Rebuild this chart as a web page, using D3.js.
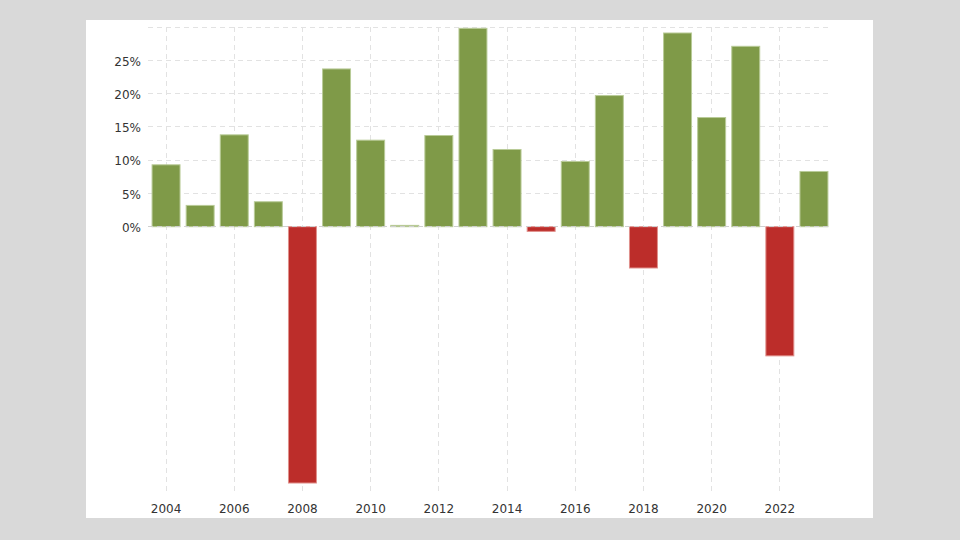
<!DOCTYPE html>
<html>
<head>
  <meta charset="utf-8" />
  <title>Annual change</title>
  <script src="https://d3js.org/d3.v7.min.js"></script>
  <style>
    body { margin: 0; background: #d9d9d9; }
    .axis text { fill: #333; font-family: "DejaVu Sans", Verdana, sans-serif; font-size: 12px; }
    .grid line { stroke: #e2e2e2; stroke-width: 1; stroke-dasharray: 5,4; shape-rendering: crispEdges; }
  </style>
</head>
<body>
  <div id="chart"></div>
  <script>
    // data
    var years = [2004, 2005, 2006, 2007, 2008, 2009, 2010, 2011, 2012, 2013,
                 2014, 2015, 2016, 2017, 2018, 2019, 2020, 2021, 2022, 2023];
    var values = [9.3, 3.2, 13.8, 3.75, -38.5, 23.7, 13.0, 0.2, 13.7, 29.8,
                  11.6, -0.7, 9.8, 19.7, -6.2, 29.1, 16.4, 27.1, -19.4, 8.3];
    var yTicks = [0, 5, 10, 15, 20, 25];
    var xTickYears = [2004, 2006, 2008, 2010, 2012, 2014, 2016, 2018, 2020, 2022];

    var dataset = years.map(function (y, i) { return { year: y, value: values[i] }; });

    var svg = d3.select("#chart").append("svg")
      .attr("width", 960).attr("height", 540);

    // white panel
    svg.append("rect")
      .attr("x", 86).attr("y", 20).attr("width", 787).attr("height", 498)
      .attr("fill", "#fff");

    var xScale = d3.scaleBand()
      .domain(years)
      .range([149, 831])
      .paddingInner(0.18)
      .paddingOuter(0.09);
    var yScale = d3.scaleLinear()
      .domain([-40, 30])
      .range([493, 27]);

    var cx = function (y) { return xScale(y) + xScale.bandwidth() / 2; };

    // vertical grid
    svg.append("g").attr("class", "grid")
      .selectAll("line").data(xTickYears).enter().append("line")
      .attr("x1", cx).attr("x2", cx)
      .attr("y1", yScale(30)).attr("y2", yScale(-40));

    // horizontal grid (incl. 30% line without label)
    svg.append("g").attr("class", "grid")
      .selectAll("line").data(yTicks.concat([30])).enter().append("line")
      .attr("x1", 148).attr("x2", 829)
      .attr("y1", function (d) { return yScale(d); })
      .attr("y2", function (d) { return yScale(d); });

    // bars
    svg.selectAll(".bar").data(dataset).enter().append("rect")
      .attr("class", "bar")
      .attr("x", function (d) { return xScale(d.year); })
      .attr("width", xScale.bandwidth())
      .attr("y", function (d) { return yScale(Math.max(0, d.value)); })
      .attr("height", function (d) { return Math.abs(yScale(d.value) - yScale(0)); })
      .attr("fill", function (d) { return d.value >= 0 ? "#7f9a48" : "#bc2d2a"; })
      .attr("stroke", function (d) { return d.value >= 0 ? "#b9cb98" : "#e0908c"; })
      .attr("stroke-width", 1);

    // zero line on top of the bars
    svg.append("g").attr("class", "grid")
      .append("line")
      .attr("x1", 148).attr("x2", 829)
      .attr("y1", yScale(0)).attr("y2", yScale(0))
      .style("stroke", "#cfcfcf");

    // y labels
    var yaxis = d3.axisLeft(yScale)
      .tickValues(yTicks)
      .tickFormat(function (d) { return d + "%"; })
      .tickSize(0).tickPadding(0);
    svg.append("g").attr("class", "axis")
      .attr("transform", "translate(141,1)")
      .call(yaxis)
      .call(function (g) { g.select(".domain").remove(); });

    // x labels
    var xaxis = d3.axisBottom(xScale)
      .tickValues(xTickYears)
      .tickSize(0).tickPadding(0);
    svg.append("g").attr("class", "axis")
      .attr("transform", "translate(0,504)")
      .call(xaxis)
      .call(function (g) { g.select(".domain").remove(); });
  </script>
</body>
</html>
